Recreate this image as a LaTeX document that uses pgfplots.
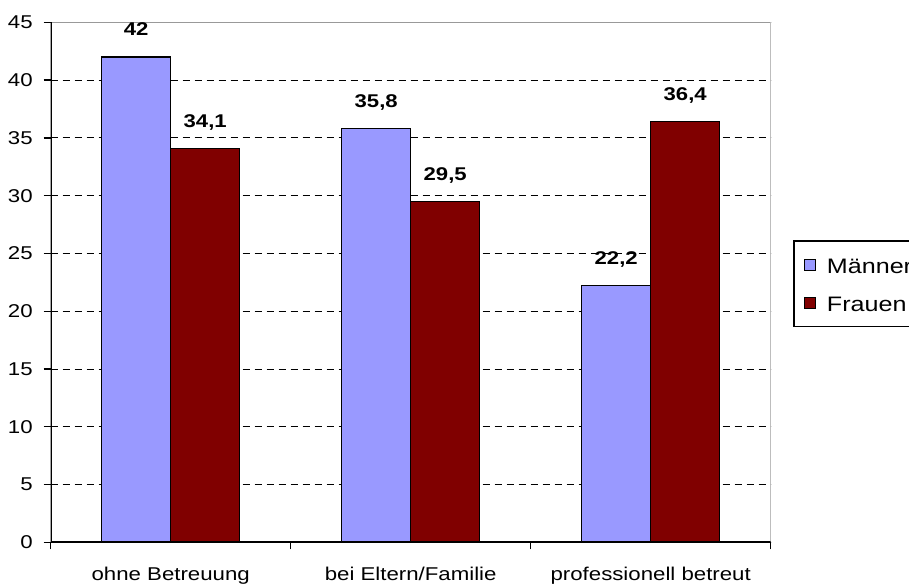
\documentclass[border=0pt]{standalone}
\usepackage{fontspec}
\setmainfont{Liberation Sans}[FakeStretch=1.2]
\usepackage{pgfplots}
\pgfplotsset{compat=1.18}
\definecolor{maenner}{HTML}{9999FF}
\definecolor{frauen}{HTML}{800000}

\begin{document}
\begin{tikzpicture}
\begin{axis}[
	at={(0,0)}, anchor=south west,
	scale only axis, width=720bp, height=520bp,
	ybar=0pt, bar width=69bp,
	xmin=-0.5, xmax=2.5, ymin=0, ymax=45,
	xtick={-0.5,0.5,1.5,2.5}, x tick label as interval,
	xticklabels={ohne Betreuung, bei Eltern/Familie, professionell betreut},
	ytick={0,5,...,45},
	tick align=outside, xtick pos=bottom, ytick pos=left,
	major tick length=7bp,
	tick style={black, line width=1.3bp},
	axis line style={draw=none},
	ymajorgrids,
	grid style={black, line width=0.9bp, dash pattern=on 7bp off 5bp},
	/pgf/number format/assume math mode=true,
	/pgf/number format/use comma,
	tick label style={font=\fontsize{18.6}{22}\selectfont},
	xticklabel style={anchor=base, yshift=-31bp},
	yticklabel style={xshift=-7.5bp},
	nodes near coords,
	nodes near coords style={font=\bfseries\fontsize{18.5}{22}\selectfont, anchor=base, inner sep=0pt, yshift=21bp, black},
	legend image code/.code={\draw[#1, line width=1.2bp] (0bp,-5.5bp) rectangle (11bp,5.5bp);},
	legend style={at={(1.0314,0.5813)}, anchor=north west, draw=black, line width=1.5bp,
		inner xsep=9.7bp, inner ysep=12.5bp, row sep=15.3bp,
		font=\fontsize{21}{24}\selectfont, cells={anchor=west},
		nodes={inner sep=0pt, text height=20bp, text depth=2.7bp},
		/tikz/every odd column/.append style={column sep=11bp}},
]
\addplot[fill=maenner, draw=black, line width=1.3bp] coordinates {(0,42) (1,35.8) (2,22.2)};
\addplot[fill=frauen, draw=black, line width=1.3bp] coordinates {(0,34.1) (1,29.5) (2,36.4)};
\legend{Männer, Frauen}
\draw[gray!80, line width=1.3bp] (rel axis cs:0,1) -- (rel axis cs:1,1) -- (rel axis cs:1,0);
\draw[black, line width=2bp] (rel axis cs:0,1) -- (rel axis cs:0,0) -- (rel axis cs:1,0);
\end{axis}
\pgfresetboundingbox
\path[use as bounding box] (-50.7bp,-41.7bp) rectangle (858.3bp,542.3bp);
\end{tikzpicture}
\end{document}
